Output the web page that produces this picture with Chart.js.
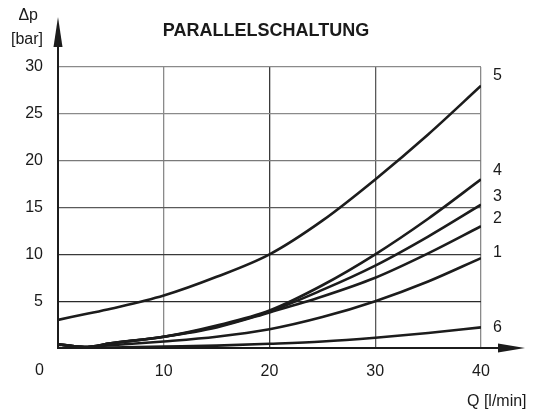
<!DOCTYPE html>
<html>
<head>
<meta charset="utf-8">
<script src="https://cdn.jsdelivr.net/npm/chart.js@4"></script>
<style>
  html, body { margin: 0; padding: 0; background: #fff; }
  #wrap { width: 533px; height: 410px; }
</style>
</head>
<body>
<div id="wrap"><canvas id="chart" width="533" height="410"></canvas></div>
<script>
// ---- DATA ----
const flowQ   = [0, 2.5, 5, 10, 15, 20, 25, 30, 35, 40];   // Q [l/min]
const curve1  = [0.4, 0.1, 0.3, 0.7, 1.2, 2.0, 3.3, 5.0, 7.1, 9.6];
const curve2  = [0.4, 0.1, 0.5, 1.2, 2.2, 3.8, 5.5, 7.5, 10.1, 13.0];
const curve3  = [0.4, 0.1, 0.5, 1.2, 2.3, 3.9, 6.2, 8.8, 11.9, 15.3];
const curve4  = [0.4, 0.1, 0.5, 1.2, 2.4, 4.0, 6.7, 10.0, 13.8, 18.0];
const curve5  = [3.0, 3.6, 4.2, 5.6, 7.6, 10.0, 13.6, 18.0, 22.8, 28.0];
const curve6  = [0.0, 0.0, 0.05, 0.15, 0.25, 0.45, 0.7, 1.1, 1.6, 2.2];
const curveNames = ["1", "2", "3", "4", "5", "6"];
const xTicks = [0, 10, 20, 30, 40];
const yTicks = [5, 10, 15, 20, 25, 30];

const allCurves = [curve1, curve2, curve3, curve4, curve5, curve6];

// ---- STYLE ----
const ink = "#1c1c1c";
const fontFam = "'Liberation Sans', Arial, sans-serif";
// label nudges (px) relative to the end of each curve
const labelOffset = [-5, -8, -8, -9, -10, 0];

const lineStyle = {
  borderColor: ink,
  borderWidth: 2.6,
  pointRadius: 0,
  fill: false,
  cubicInterpolationMode: "monotone"
};

const datasets = allCurves.map((vals, i) => ({
  label: curveNames[i],
  data: vals.map((v, k) => ({ x: flowQ[k], y: v })),
  ...lineStyle
}));

// ---- EXTRA DRAWING: arrows, title, axis names, curve numbers ----
const decorPlugin = {
  id: "decor",
  afterDraw(chart) {
    const ctx = chart.ctx;
    const a = chart.chartArea;
    const xs = chart.scales.x, ys = chart.scales.y;
    ctx.save();
    ctx.strokeStyle = ink;
    ctx.fillStyle = ink;
    ctx.lineWidth = 2;

    // y axis arrow
    ctx.beginPath();
    ctx.moveTo(a.left, a.top);
    ctx.lineTo(a.left, 30);
    ctx.stroke();
    ctx.beginPath();
    ctx.moveTo(a.left, 17);
    ctx.lineTo(a.left - 4.5, 47);
    ctx.lineTo(a.left + 4.5, 47);
    ctx.closePath();
    ctx.fill();

    // x axis arrow
    ctx.beginPath();
    ctx.moveTo(a.right, a.bottom);
    ctx.lineTo(505, a.bottom);
    ctx.stroke();
    ctx.beginPath();
    ctx.moveTo(525, a.bottom);
    ctx.lineTo(498, a.bottom - 4.5);
    ctx.lineTo(498, a.bottom + 4.5);
    ctx.closePath();
    ctx.fill();

    // texts
    ctx.fillStyle = "#1a1a1a";
    ctx.font = "bold 18px " + fontFam;
    ctx.textAlign = "center";
    ctx.textBaseline = "middle";
    ctx.fillText("PARALLELSCHALTUNG", 266, 31);

    ctx.font = "16px " + fontFam;
    ctx.textAlign = "right";
    ctx.fillText("\u0394p", 38, 16);
    ctx.fillText("[bar]", 43, 40);
    ctx.fillText("0", 44, 371);
    ctx.textAlign = "left";
    ctx.fillText("Q [l/min]", 467, 402);

    // curve numbers
    allCurves.forEach((vals, i) => {
      const last = vals[vals.length - 1];
      const py = ys.getPixelForValue(last) + labelOffset[i];
      ctx.fillText(curveNames[i], xs.getPixelForValue(40) + 12, py);
    });
    ctx.restore();
  }
};

const xGridColors = { 10: "#8a8a8a", 20: "#3a3a3a", 30: "#5a5a5a", 40: "#8a8a8a" };
const yGridColors = { 5: "#2a2a2a", 10: "#3a3a3a", 15: "#5a5a5a", 20: "#7a7a7a", 25: "#8a8a8a", 30: "#8a8a8a" };

new Chart(document.getElementById("chart"), {
  type: "line",
  data: { datasets: datasets },
  options: {
    responsive: false,
    animation: false,
    layout: { padding: { top: 67, right: 52, left: 0, bottom: 0 } },
    plugins: {
      legend: { display: false },
      tooltip: { enabled: false }
    },
    scales: {
      x: {
        type: "linear",
        min: 0,
        max: 40,
        afterBuildTicks: s => { s.ticks = xTicks.map(v => ({ value: v })); },
        afterFit: s => { s.height = 62; },
        ticks: {
          callback: v => (v === 0 ? "" : v),
          font: { size: 16, family: fontFam },
          color: "#1a1a1a",
          padding: 14,
          maxRotation: 0
        },
        grid: {
          drawTicks: false,
          lineWidth: 1.3,
          color: c => xGridColors[c.tick && c.tick.value] || "rgba(0,0,0,0)"
        },
        border: { display: true, color: ink, width: 2 }
      },
      y: {
        min: 0,
        max: 30,
        afterBuildTicks: s => { s.ticks = [0].concat(yTicks).map(v => ({ value: v })); },
        afterFit: s => { s.width = 58; },
        ticks: {
          callback: v => (v === 0 ? "" : v),
          font: { size: 16, family: fontFam },
          color: "#1a1a1a",
          padding: 15
        },
        grid: {
          drawTicks: false,
          lineWidth: 1.3,
          color: c => yGridColors[c.tick && c.tick.value] || "rgba(0,0,0,0)"
        },
        border: { display: true, color: ink, width: 2 }
      }
    }
  },
  plugins: [decorPlugin]
});
</script>
</body>
</html>
